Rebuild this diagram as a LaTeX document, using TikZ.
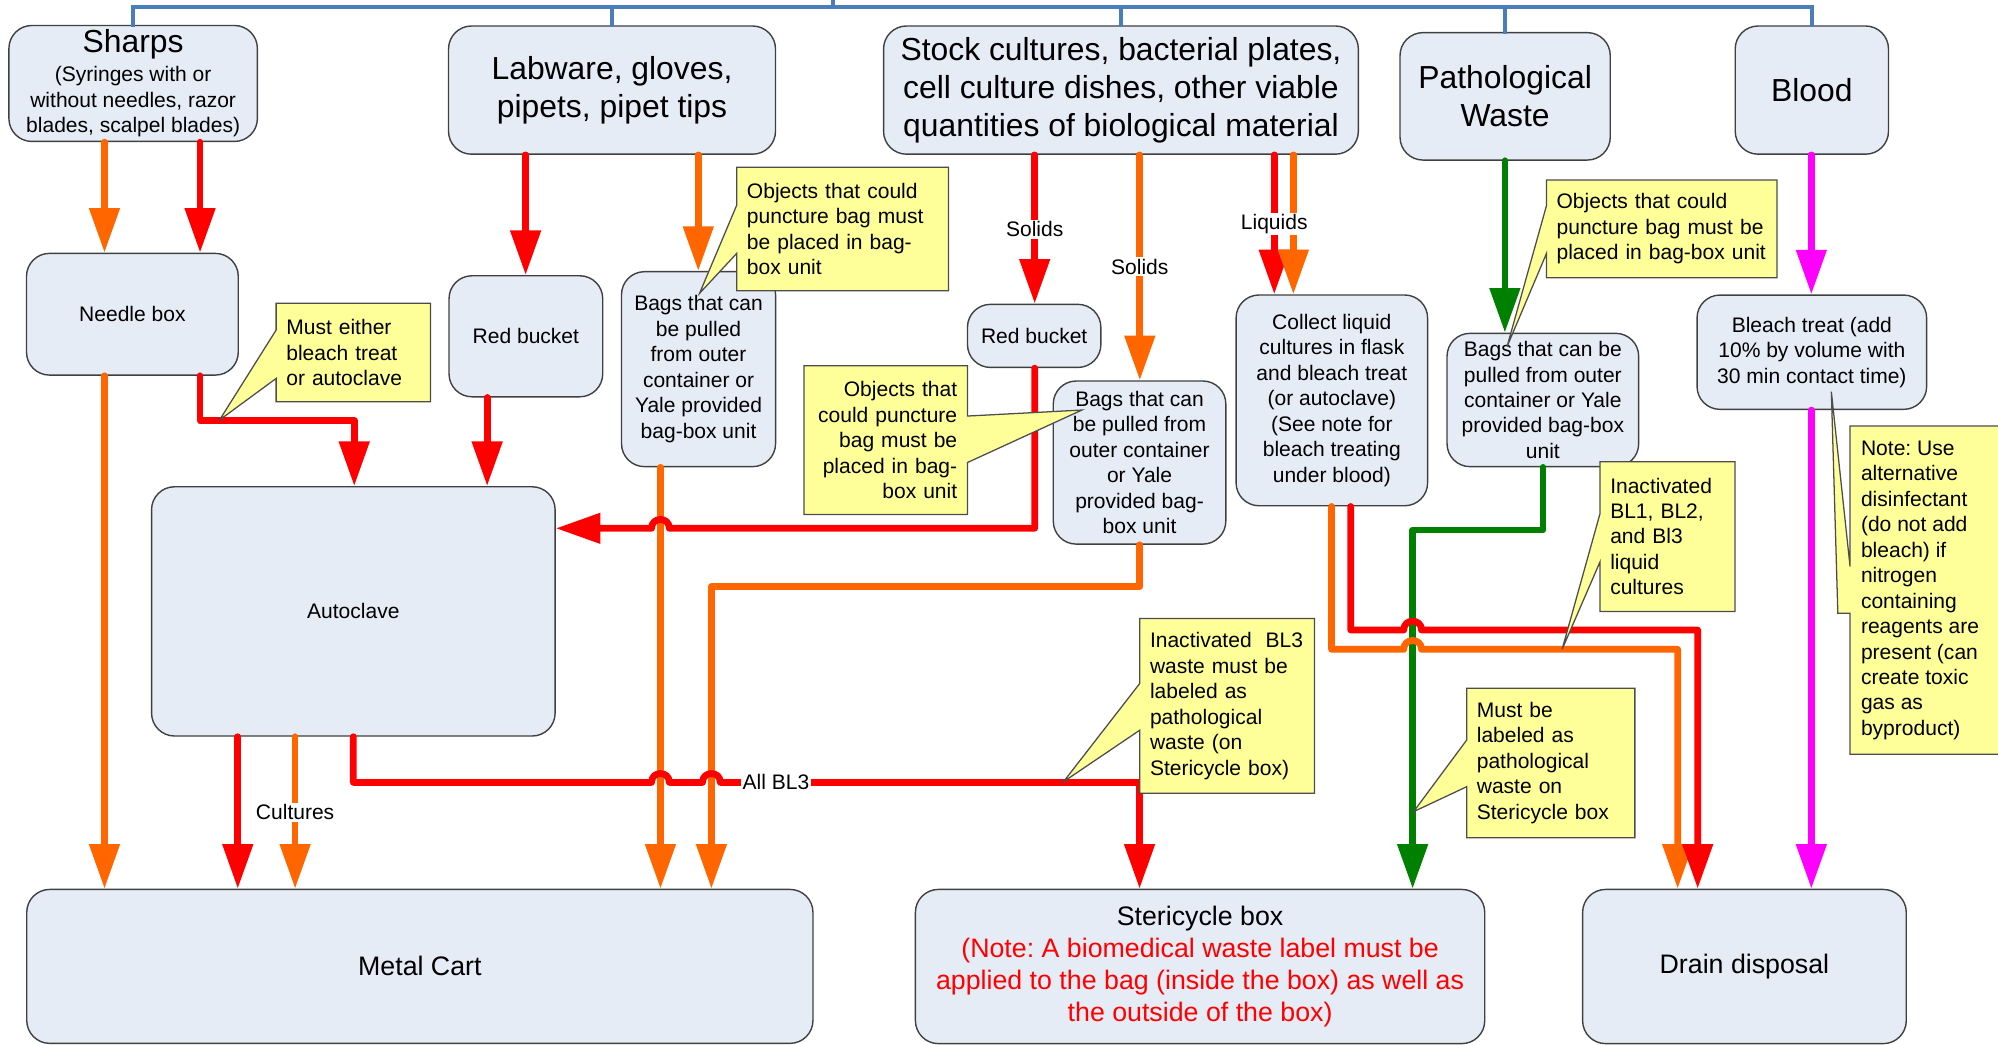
\documentclass[tikz,border=0pt]{standalone}
\usepackage{fontspec}
\setmainfont{Liberation Sans}
\usetikzlibrary{arrows.meta}
\frenchspacing
\definecolor{boxfill}{HTML}{E6ECF6}
\definecolor{boxline}{HTML}{404040}
\definecolor{calfill}{HTML}{FFFF99}
\definecolor{calline}{HTML}{4D4D4D}
\definecolor{fred}{HTML}{FF0000}
\definecolor{forange}{HTML}{FF6600}
\definecolor{fgreen}{HTML}{008000}
\definecolor{fmag}{HTML}{FF00FF}
\definecolor{fblue}{HTML}{4A7EBB}
\tikzset{
  fbox/.style={draw=boxline, line width=1.1pt, fill=boxfill, rounded corners=18pt,
    inner sep=0pt, align=center, font=\fontsize{16.5}{20}\selectfont},
  bigtext/.style={font=\fontsize{25}{30}\selectfont},
  midtext/.style={font=\fontsize{21}{25}\selectfont},
  calshape/.style={draw=calline, line width=1pt, fill=calfill, line join=miter},
  caltext/.style={inner sep=0pt, align=left, font=\fontsize{16.5}{20}\selectfont},
  flow/.style={line width=5.3pt, line cap=round, line join=round,
    -{Triangle[length=35pt,width=23pt]}},
  lbl/.style={fill=white, inner sep=1.2pt, font=\fontsize{16.5}{20}\selectfont},
  bus/.style={draw=fblue, line width=3pt, line cap=rect, line join=miter},
}
\begin{document}
\frenchspacing
\begin{tikzpicture}[x=1pt,y=-1pt]
\useasboundingbox (0,0) rectangle (1568,820);
\clip (0,0) rectangle (1568,820);

% ---------- boxes ----------
\node[fbox, minimum width=195pt, minimum height=91pt] (sharps) at (104.5,65.5)
  {{\fontsize{25}{30}\selectfont Sharps}\\[3pt](Syringes with or\\without needles, razor\\blades, scalpel blades)};
\node[fbox, bigtext, minimum width=256.6pt, minimum height=100.6pt] (labware) at (480.3,70.7)
  {Labware, gloves,\\pipets, pipet tips};
\node[fbox, bigtext, minimum width=372.6pt, minimum height=100.6pt] (stock) at (879.7,70.7)
  {Stock cultures, bacterial plates,\\cell culture dishes, other viable\\quantities of biological material};
\node[fbox, bigtext, minimum width=165pt, minimum height=100pt] (patho) at (1181.2,75.6)
  {Pathological\\Waste};
\node[fbox, bigtext, minimum width=120.3pt, minimum height=100.6pt] (blood) at (1421.9,70.7)
  {Blood};

\node[fbox, minimum width=166.2pt, minimum height=95.5pt] (needle) at (103.9,246.6) {Needle box};
\node[fbox, minimum width=120.6pt, minimum height=95pt] (redL) at (412.7,263.9) {Red bucket};
\node[fbox, minimum width=120.9pt, minimum height=153pt] (bagsL) at (548.2,289.7)
  {Bags that can\\be pulled\\from outer\\container or\\Yale provided\\bag-box unit};
\node[fbox, minimum width=104.7pt, minimum height=49.5pt] (redM) at (811.6,263.6) {Red bucket};
\node[fbox, minimum width=135.4pt, minimum height=128pt] (bagsM) at (894.3,363)
  {Bags that can\\be pulled from\\outer container\\or Yale\\provided bag-\\box unit};
\node[fbox, minimum width=150.3pt, minimum height=165.4pt] (collect) at (1045.2,314.2)
  {Collect liquid\\cultures in flask\\and bleach treat\\(or autoclave)\\(See note for\\bleach treating\\under blood)};
\node[fbox, minimum width=150.4pt, minimum height=104.6pt] (bagsR) at (1210.8,313.9)
  {Bags that can be\\pulled from outer\\container or Yale\\provided bag-box\\unit};
\node[fbox, minimum width=180.2pt, minimum height=89.7pt] (bleach) at (1421.9,276.4)
  {Bleach treat (add\\10\% by volume with\\30 min contact time)};
\node[fbox, minimum width=316.7pt, minimum height=195.6pt] (autoclave) at (277.3,479.8) {Autoclave};
\node[fbox, midtext, minimum width=617pt, minimum height=120.8pt] (cart) at (329.5,758.4) {Metal Cart};
\node[fbox, midtext, minimum width=446.8pt, minimum height=121pt] (steri) at (941.8,758.5)
  {Stericycle box\\\textcolor{fred}{(Note: A biomedical waste label must be}\\\textcolor{fred}{applied to the bag (inside the box) as well as}\\\textcolor{fred}{the outside of the box)}};
\node[fbox, midtext, minimum width=254pt, minimum height=121pt] (drain) at (1369,758.5) {Drain disposal};

% ---------- blue bus ----------
\coordinate (parent) at (654,-4);
\draw[bus] (sharps.north) -- (sharps.north |- 0,5.2) -- (blood.north |- 0,5.2) -- (blood.north);
\draw[bus] (labware.north) -- (labware.north |- 0,5.2);
\draw[bus] (stock.north) -- (stock.north |- 0,5.2);
\draw[bus] (patho.north) -- (patho.north |- 0,5.2);
\draw[bus] (parent) -- (parent |- 0,5.2);

% ---------- flows ----------
\draw[flow, forange] (sharps.south -| 82,0) -- (needle.north -| 82,0);
\draw[flow, fred] (sharps.south -| 157,0) -- (needle.north -| 157,0);
\draw[flow, forange] (needle.south -| 82,0) -- (cart.north -| 82,0);
\draw[flow, fred] (needle.south -| 157,0) -- (157,330) -- (278,330) -- (autoclave.north -| 278,0);

\draw[flow, fred] (labware.south -| 412.5,0) -- (redL.north -| 412.5,0);
\draw[flow, forange] (labware.south -| 548,0) -- (bagsL.north -| 548,0);
\draw[flow, fred] (redL.south -| 382.3,0) -- (autoclave.north -| 382.3,0);
\draw[flow, forange] (bagsL.south -| 518.3,0) -- (cart.north -| 518.3,0);

\draw[flow, fred] (stock.south -| 812,0) -- (redM.north -| 812,0);
\draw[flow, forange] (stock.south -| 894.5,0) -- (bagsM.north -| 894.5,0);
\draw[flow, fred] (stock.south -| 1000,0) -- (collect.north -| 1000,0);
\draw[flow, forange] (stock.south -| 1015,0) -- (collect.north -| 1015,0);

\draw[flow, forange] (bagsM.south -| 894.5,0) -- (894.5,460.4) -- (558.3,460.4) -- (cart.north -| 558.3,0);
\draw[flow, fred] (redM.south -| 812,0) -- (812,414.6) -- (525.3,414.6)
  .. controls (525.3,405.3) and (511.3,405.3) .. (511.3,414.6) -- (autoclave.east |- 0,414.6);

\draw[flow, fred] (autoclave.south -| 186.6,0) -- (cart.north -| 186.6,0);
\draw[flow, forange] (autoclave.south -| 231.6,0) -- (cart.north -| 231.6,0);
\draw[flow, fred] (autoclave.south -| 277.3,0) -- (277.3,614) -- (511.3,614)
  .. controls (511.3,604.7) and (525.3,604.7) .. (525.3,614) -- (551.3,614)
  .. controls (551.3,604.7) and (565.3,604.7) .. (565.3,614) -- (894.3,614) -- (steri.north -| 894.3,0);

\draw[flow, fgreen] (patho.south -| 1181,0) -- (bagsR.north -| 1181,0);
\draw[flow, fgreen] (bagsR.south -| 1211,0) -- (1211,416) -- (1108.6,416) -- (steri.north -| 1108.6,0);

\draw[flow, forange] (collect.south -| 1045,0) -- (1045,509.6) -- (1101.6,509.6)
  .. controls (1101.6,500.3) and (1115.6,500.3) .. (1115.6,509.6) -- (1316.6,509.6) -- (drain.north -| 1316.6,0);
\draw[flow, fred] (collect.south -| 1060,0) -- (1060,494.4) -- (1101.6,494.4)
  .. controls (1101.6,485.1) and (1115.6,485.1) .. (1115.6,494.4) -- (1332.3,494.4) -- (drain.north -| 1332.3,0);

\draw[flow, fmag] (blood.south -| 1421.5,0) -- (bleach.north -| 1421.5,0);
\draw[flow, fmag] (bleach.south -| 1421.5,0) -- (drain.north -| 1421.5,0);

% ---------- line labels ----------
\node[lbl] (lsolA) at (812,180) {Solids};
\node[lbl] (lsolB) at (894.5,209.3) {Solids};
\node[lbl] (lliq) at (1000,175.8) {Liquids};
\node[lbl] (lcult) at (231.6,637.5) {Cultures};
\node[lbl] (lbl3) at (609,613.8) {All BL3};

% ---------- callouts ----------
\draw[calshape] (216.7,238) -- (337.8,238) -- (337.8,315.3) -- (216.7,315.3) -- (216.7,297) -- (172.3,329.6) -- (216.7,259) -- cycle;
\node[caltext, text width=105.1pt] (c1) at (277.25,276.65) {Must either\\bleach treat\\or autoclave};

\draw[calshape] (578.2,131.3) -- (744.4,131.3) -- (744.4,228.1) -- (578.2,228.1) -- (578.2,198.8) -- (549,230.2) -- (578.2,160.9) -- cycle;
\node[caltext, text width=150.2pt] (c2) at (661.3,179.7) {Objects that could\\puncture bag must\\be placed in bag-\\box unit};

\draw[calshape] (631,287) -- (759.2,287) -- (759.2,326.5) -- (849,321.8) -- (759.2,363) -- (759.2,403.7) -- (631,403.7) -- cycle;
\node[caltext, align=right, text width=112.2pt] (c3) at (695.1,345.35) {Objects that\\could puncture\\bag must be\\placed in bag-\\box unit};

\draw[calshape] (1213.6,141.3) -- (1394.6,141.3) -- (1394.6,218) -- (1213.6,218) -- (1213.6,199) -- (1182.7,272) -- (1213.6,161.5) -- cycle;
\node[caltext, text width=165pt] (c4) at (1304.1,179.65) {Objects that could\\puncture bag must be\\placed in bag-box unit};

\draw[calshape] (1255.7,362.3) -- (1361.5,362.3) -- (1361.5,479.8) -- (1255.7,479.8) -- (1255.7,440.8) -- (1225.9,509.6) -- (1255.7,402.9) -- cycle;
\node[caltext, text width=89.8pt] (c5) at (1308.6,421) {Inactivated\\BL1, BL2,\\and Bl3\\liquid\\cultures};

\draw[calshape] (1451.9,334.3) -- (1580,334.3) -- (1580,592) -- (1451.9,592) -- (1451.9,481.3) -- (1442.3,481.3) -- (1437.2,307.4) -- (1451.9,444.7) -- cycle;
\node[caltext, anchor=west] (c6) at (1460.3,463.2) {Note: Use\\alternative\\disinfectant\\(do not add\\bleach) if\\nitrogen\\containing\\reagents are\\present (can\\create toxic\\gas as\\byproduct)};

\draw[calshape] (894.5,485.3) -- (1031.5,485.3) -- (1031.5,622.6) -- (894.5,622.6) -- (894.5,573) -- (834.6,613.5) -- (894.5,536.3) -- cycle;
\node[caltext, text width=121pt] (c7) at (963,553.95) {Inactivated\ \ BL3\\waste must be\\labeled as\\pathological\\waste (on\\Stericycle box)};

\draw[calshape] (1151,540.2) -- (1283,540.2) -- (1283,657.4) -- (1151,657.4) -- (1151,617.4) -- (1109.3,637) -- (1151,580.8) -- cycle;
\node[caltext, text width=116pt] (c8) at (1217,598.8) {Must be\\labeled as\\pathological\\waste on\\Stericycle box};

\end{tikzpicture}
\end{document}
